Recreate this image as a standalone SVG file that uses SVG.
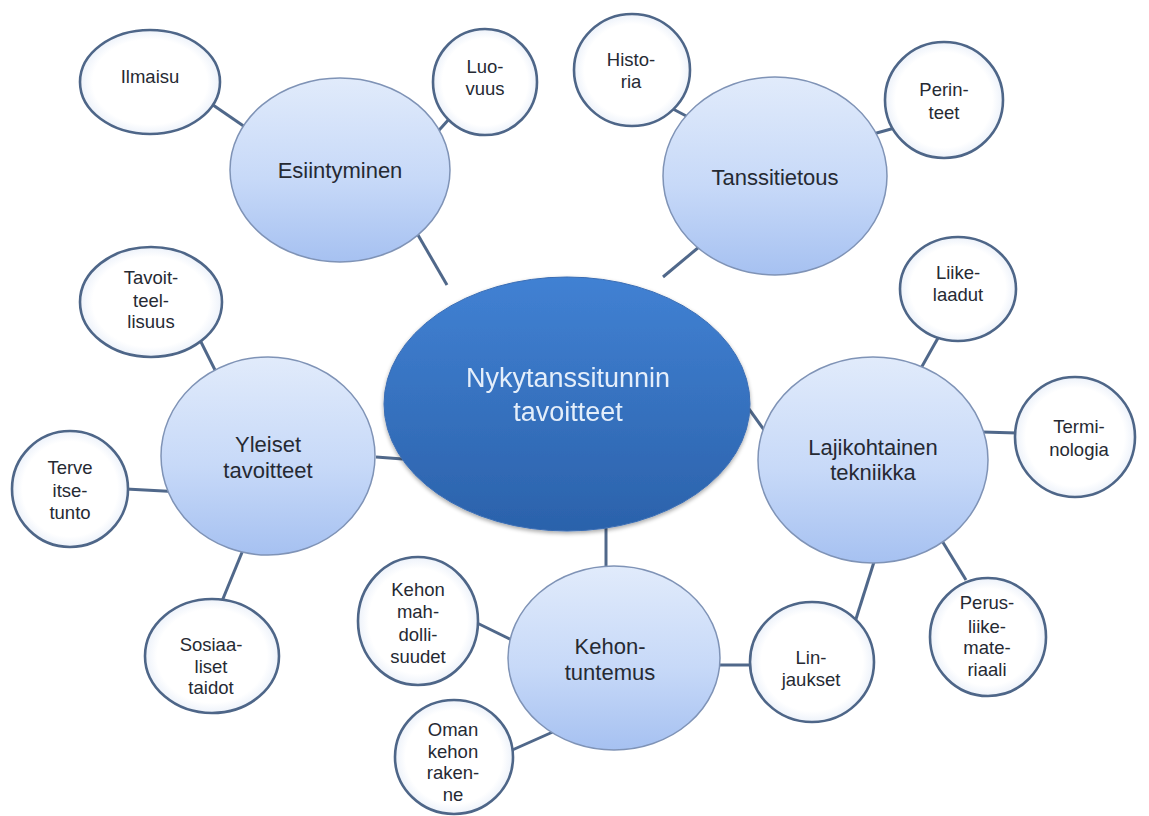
<svg xmlns="http://www.w3.org/2000/svg" width="1149" height="816" viewBox="0 0 1149 816">
<defs>
<linearGradient id="gMid" x1="0" y1="0" x2="0" y2="1">
<stop offset="0" stop-color="#e1ebfb"/>
<stop offset="0.55" stop-color="#c7d9f8"/>
<stop offset="1" stop-color="#a6c1f1"/>
</linearGradient>
<linearGradient id="gCenter" x1="0" y1="0" x2="0" y2="1">
<stop offset="0" stop-color="#4181d3"/>
<stop offset="1" stop-color="#2b62ab"/>
</linearGradient>
<radialGradient id="gLeaf" cx="0.5" cy="0.5" r="0.5">
<stop offset="0.82" stop-color="#ffffff"/>
<stop offset="1" stop-color="#edf2fa"/>
</radialGradient>
<filter id="sh" x="-10%" y="-10%" width="120%" height="125%">
<feGaussianBlur in="SourceAlpha" stdDeviation="2"/>
<feOffset dx="0" dy="2"/>
<feComponentTransfer><feFuncA type="linear" slope="0.35"/></feComponentTransfer>
<feMerge><feMergeNode/><feMergeNode in="SourceGraphic"/></feMerge>
</filter>
</defs>
<style>
.mid{fill:url(#gMid);stroke:#7f93b6;stroke-width:1.5}
.leaf{fill:url(#gLeaf);stroke:#4e6688;stroke-width:2.6}
.ctr{fill:url(#gCenter);stroke:#3a6db4;stroke-width:1}
.t{font-family:"Liberation Sans",Arial,sans-serif;text-anchor:middle;fill:#262a33}
.ts{font-size:18.5px}
.tm{font-size:22px}
.tc{font-size:27px;fill:#e4eefa}
.con line{stroke:#50688a;stroke-width:3}
</style>
<g id="connectors" class="con">
<line x1="447" y1="285" x2="418" y2="235"/>
<line x1="213" y1="105" x2="245" y2="127"/>
<line x1="450" y1="118" x2="432" y2="138"/>
<line x1="663" y1="277" x2="699" y2="247"/>
<line x1="673" y1="109" x2="690" y2="118"/>
<line x1="902" y1="126" x2="873" y2="134"/>
<line x1="376" y1="457" x2="416" y2="460"/>
<line x1="200" y1="340" x2="219" y2="378"/>
<line x1="126" y1="489" x2="182" y2="492"/>
<line x1="243" y1="550" x2="220" y2="606"/>
<line x1="606" y1="528" x2="606" y2="569"/>
<line x1="475" y1="622" x2="514" y2="641"/>
<line x1="510" y1="751" x2="555" y2="731"/>
<line x1="718" y1="665" x2="752" y2="665"/>
<line x1="749" y1="409" x2="767" y2="434"/>
<line x1="938" y1="338" x2="916" y2="377"/>
<line x1="982" y1="432" x2="1017" y2="433"/>
<line x1="936" y1="531" x2="966" y2="580"/>
<line x1="874" y1="562" x2="855" y2="622"/>
</g>
<g id="center" filter="url(#sh)">
<ellipse class="ctr" cx="567" cy="404" rx="183" ry="127"/>
<text class="t tc" x="568" y="387">Nykytanssitunnin</text>
<text class="t tc" x="568" y="421">tavoitteet</text>
</g>
<g id="esiintyminen">
<ellipse class="mid" cx="340" cy="170" rx="110" ry="92"/>
<text class="t tm" x="340" y="178">Esiintyminen</text>
</g>
<g id="ilmaisu">
<ellipse class="leaf" cx="150" cy="82" rx="70" ry="52"/>
<text class="t ts" x="150" y="83">Ilmaisu</text>
</g>
<g id="luovuus">
<ellipse class="leaf" cx="485" cy="82" rx="52" ry="53"/>
<text class="t ts" x="485" y="73">Luo-</text>
<text class="t ts" x="485" y="95">vuus</text>
</g>
<g id="tanssitietous">
<ellipse class="mid" cx="775" cy="176" rx="112" ry="99"/>
<text class="t tm" x="775" y="185">Tanssitietous</text>
</g>
<g id="historia">
<ellipse class="leaf" cx="632" cy="70" rx="58" ry="56"/>
<text class="t ts" x="631" y="66">Histo-</text>
<text class="t ts" x="631" y="88">ria</text>
</g>
<g id="perinteet">
<ellipse class="leaf" cx="944" cy="100" rx="59" ry="58"/>
<text class="t ts" x="944" y="96">Perin-</text>
<text class="t ts" x="944" y="119">teet</text>
</g>
<g id="yleiset">
<ellipse class="mid" cx="268" cy="456" rx="107" ry="99"/>
<text class="t tm" x="268" y="452">Yleiset</text>
<text class="t tm" x="268" y="478">tavoitteet</text>
</g>
<g id="tavoitteellisuus">
<ellipse class="leaf" cx="151" cy="302" rx="71" ry="55"/>
<text class="t ts" x="151" y="284">Tavoit-</text>
<text class="t ts" x="151" y="307">teel-</text>
<text class="t ts" x="151" y="328">lisuus</text>
</g>
<g id="terve">
<ellipse class="leaf" cx="70" cy="489" rx="58" ry="58"/>
<text class="t ts" x="70" y="474">Terve</text>
<text class="t ts" x="70" y="497">itse-</text>
<text class="t ts" x="70" y="519">tunto</text>
</g>
<g id="sosiaaliset">
<ellipse class="leaf" cx="212" cy="656" rx="67" ry="57"/>
<text class="t ts" x="211" y="651">Sosiaa-</text>
<text class="t ts" x="211" y="673">liset</text>
<text class="t ts" x="211" y="694">taidot</text>
</g>
<g id="kehontuntemus">
<ellipse class="mid" cx="614" cy="658" rx="106" ry="92"/>
<text class="t tm" x="610" y="654">Kehon-</text>
<text class="t tm" x="610" y="680">tuntemus</text>
</g>
<g id="mahdollisuudet">
<ellipse class="leaf" cx="418" cy="621" rx="60" ry="64"/>
<text class="t ts" x="418" y="596">Kehon</text>
<text class="t ts" x="418" y="618">mah-</text>
<text class="t ts" x="418" y="641">dolli-</text>
<text class="t ts" x="418" y="663">suudet</text>
</g>
<g id="rakenne">
<ellipse class="leaf" cx="454" cy="757" rx="59" ry="57"/>
<text class="t ts" x="453" y="736">Oman</text>
<text class="t ts" x="453" y="758">kehon</text>
<text class="t ts" x="453" y="779">raken-</text>
<text class="t ts" x="453" y="801">ne</text>
</g>
<g id="linjaukset">
<ellipse class="leaf" cx="812" cy="662" rx="62" ry="60"/>
<text class="t ts" x="811" y="664">Lin-</text>
<text class="t ts" x="811" y="686">jaukset</text>
</g>
<g id="lajikohtainen">
<ellipse class="mid" cx="873" cy="460" rx="115" ry="103"/>
<text class="t tm" x="873" y="455">Lajikohtainen</text>
<text class="t tm" x="873" y="480">tekniikka</text>
</g>
<g id="liikelaadut">
<ellipse class="leaf" cx="958" cy="289" rx="58" ry="52"/>
<text class="t ts" x="958" y="279">Liike-</text>
<text class="t ts" x="958" y="301">laadut</text>
</g>
<g id="terminologia">
<ellipse class="leaf" cx="1075" cy="437" rx="60" ry="60"/>
<text class="t ts" x="1079" y="433">Termi-</text>
<text class="t ts" x="1079" y="456">nologia</text>
</g>
<g id="perusliike">
<ellipse class="leaf" cx="988" cy="637" rx="58" ry="59"/>
<text class="t ts" x="987" y="609">Perus-</text>
<text class="t ts" x="987" y="633">liike-</text>
<text class="t ts" x="987" y="654">mate-</text>
<text class="t ts" x="987" y="676">riaali</text>
</g>
</svg>
